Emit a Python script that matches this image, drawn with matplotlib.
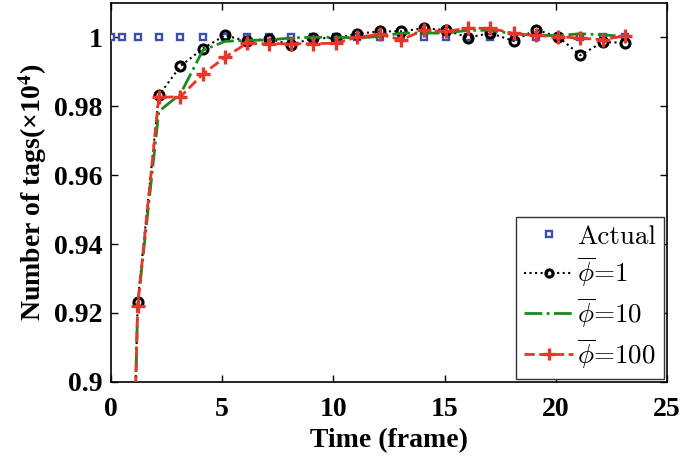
import matplotlib
matplotlib.use("Agg")
import matplotlib.pyplot as plt

# ---- data ----
frames = [0.12, 1.2, 2.15, 3.12, 4.13, 5.13, 6.1, 7.1, 8.1, 9.1, 10.1, 11.05,
          12.08, 13.05, 14.05, 15.05, 16.05, 17.05, 18.1, 19.1, 20.1, 21.1, 22.1, 23.1]
actual_frames = [0.0, 0.5] + frames[1:]
actual = [1.0] * len(actual_frames)
phi1 = [0.64, 0.9232, 0.9831, 0.9916, 0.9967, 1.0006, 0.9988, 0.9996, 0.9978, 0.9998,
        0.9997, 1.0010, 1.0017, 1.0017, 1.0026, 1.0021, 0.9999, 1.0012, 0.9989, 1.0022,
        1.0001, 0.9948, 0.9986, 0.9984]
phi10 = [0.64, 0.922, 0.9785, 0.9835, 0.9962, 0.9988, 0.9991, 0.9992, 0.9998, 1.0,
         1.0, 0.9998, 1.0002, 1.0012, 1.0012, 1.0012, 1.0020, 1.0020, 1.0010, 1.0005,
         1.0005, 1.0010, 1.0007, 1.0002]
phi100 = [0.64, 0.922, 0.9826, 0.9827, 0.9893, 0.9942, 0.9982, 0.9981, 0.9981, 0.9981,
          0.9983, 1.0000, 1.0008, 0.9993, 1.0020, 1.0017, 1.0026, 1.0026, 1.0011, 1.0005,
          1.0002, 0.9997, 0.9993, 1.0004]
labels = ["Actual", r"$\overline{\phi}$=1", r"$\overline{\phi}$=10", r"$\overline{\phi}$=100"]
xticks = [0, 5, 10, 15, 20, 25]
yticks = [0.9, 0.92, 0.94, 0.96, 0.98, 1.0]
ytick_labels = ["0.9", "0.92", "0.94", "0.96", "0.98", "1"]

plt.rcParams['mathtext.fontset'] = 'cm'

fig = plt.figure(figsize=(6.85, 4.59), dpi=100)
ax = fig.add_axes([0.162, 0.168, 0.812, 0.826])

ax.plot(actual_frames, actual, linestyle='none', marker='s', markersize=5,
        markerfacecolor='white', markeredgecolor='#3a4fb0', markeredgewidth=1.7,
        label=labels[0], zorder=3)
ax.plot(frames, phi1, linestyle=':', color='black', linewidth=1.5, marker='o',
        markersize=6.5, markerfacecolor='none', markeredgewidth=2.2,
        label=labels[1], zorder=4)
ax.plot(frames, phi10, linestyle='-.', color='#1a8a1a', linewidth=2.0,
        label=labels[2], zorder=4)
ax.plot(frames, phi100, linestyle='--', color='#e8352a', linewidth=2.0, marker='+',
        markersize=10, markeredgewidth=2.4, label=labels[3], zorder=5)

ax.set_xlim(0, 25)
ax.set_ylim(0.9, 1.01)
ax.set_xticks(xticks)
ax.set_yticks(yticks)
ax.set_yticklabels(ytick_labels)
ax.tick_params(direction='in', top=True, right=True, length=5, width=1)
ax.tick_params(axis='y', pad=6)
ax.tick_params(axis='x', pad=11)
for lab in ax.get_xticklabels() + ax.get_yticklabels():
    lab.set_fontfamily('Liberation Serif')
    lab.set_fontweight('bold')
    lab.set_fontsize(20)
for sp in ax.spines.values():
    sp.set_linewidth(1.2)

ax.set_xlabel('Time (frame)', fontfamily='Liberation Serif', fontweight='bold',
              fontsize=20, labelpad=4)
ax.set_ylabel(r'Number of tags(×10$^{\mathbf{4}}$)', fontfamily='Liberation Serif',
              fontweight='bold', fontsize=20, labelpad=4, math_fontfamily='stix')

leg = ax.legend(loc='lower right', prop={'family': 'cmr10', 'size': 19.5},
                fancybox=False, edgecolor='#333333', framealpha=1,
                handlelength=1.8, handletextpad=0.15, labelspacing=0.22,
                borderpad=0.3, borderaxespad=0.12, markerscale=0.8)
leg.get_frame().set_linewidth(1.0)
for t in leg.get_texts():
    t.set_math_fontfamily('cm')

fig.savefig('out.png', dpi=100)
